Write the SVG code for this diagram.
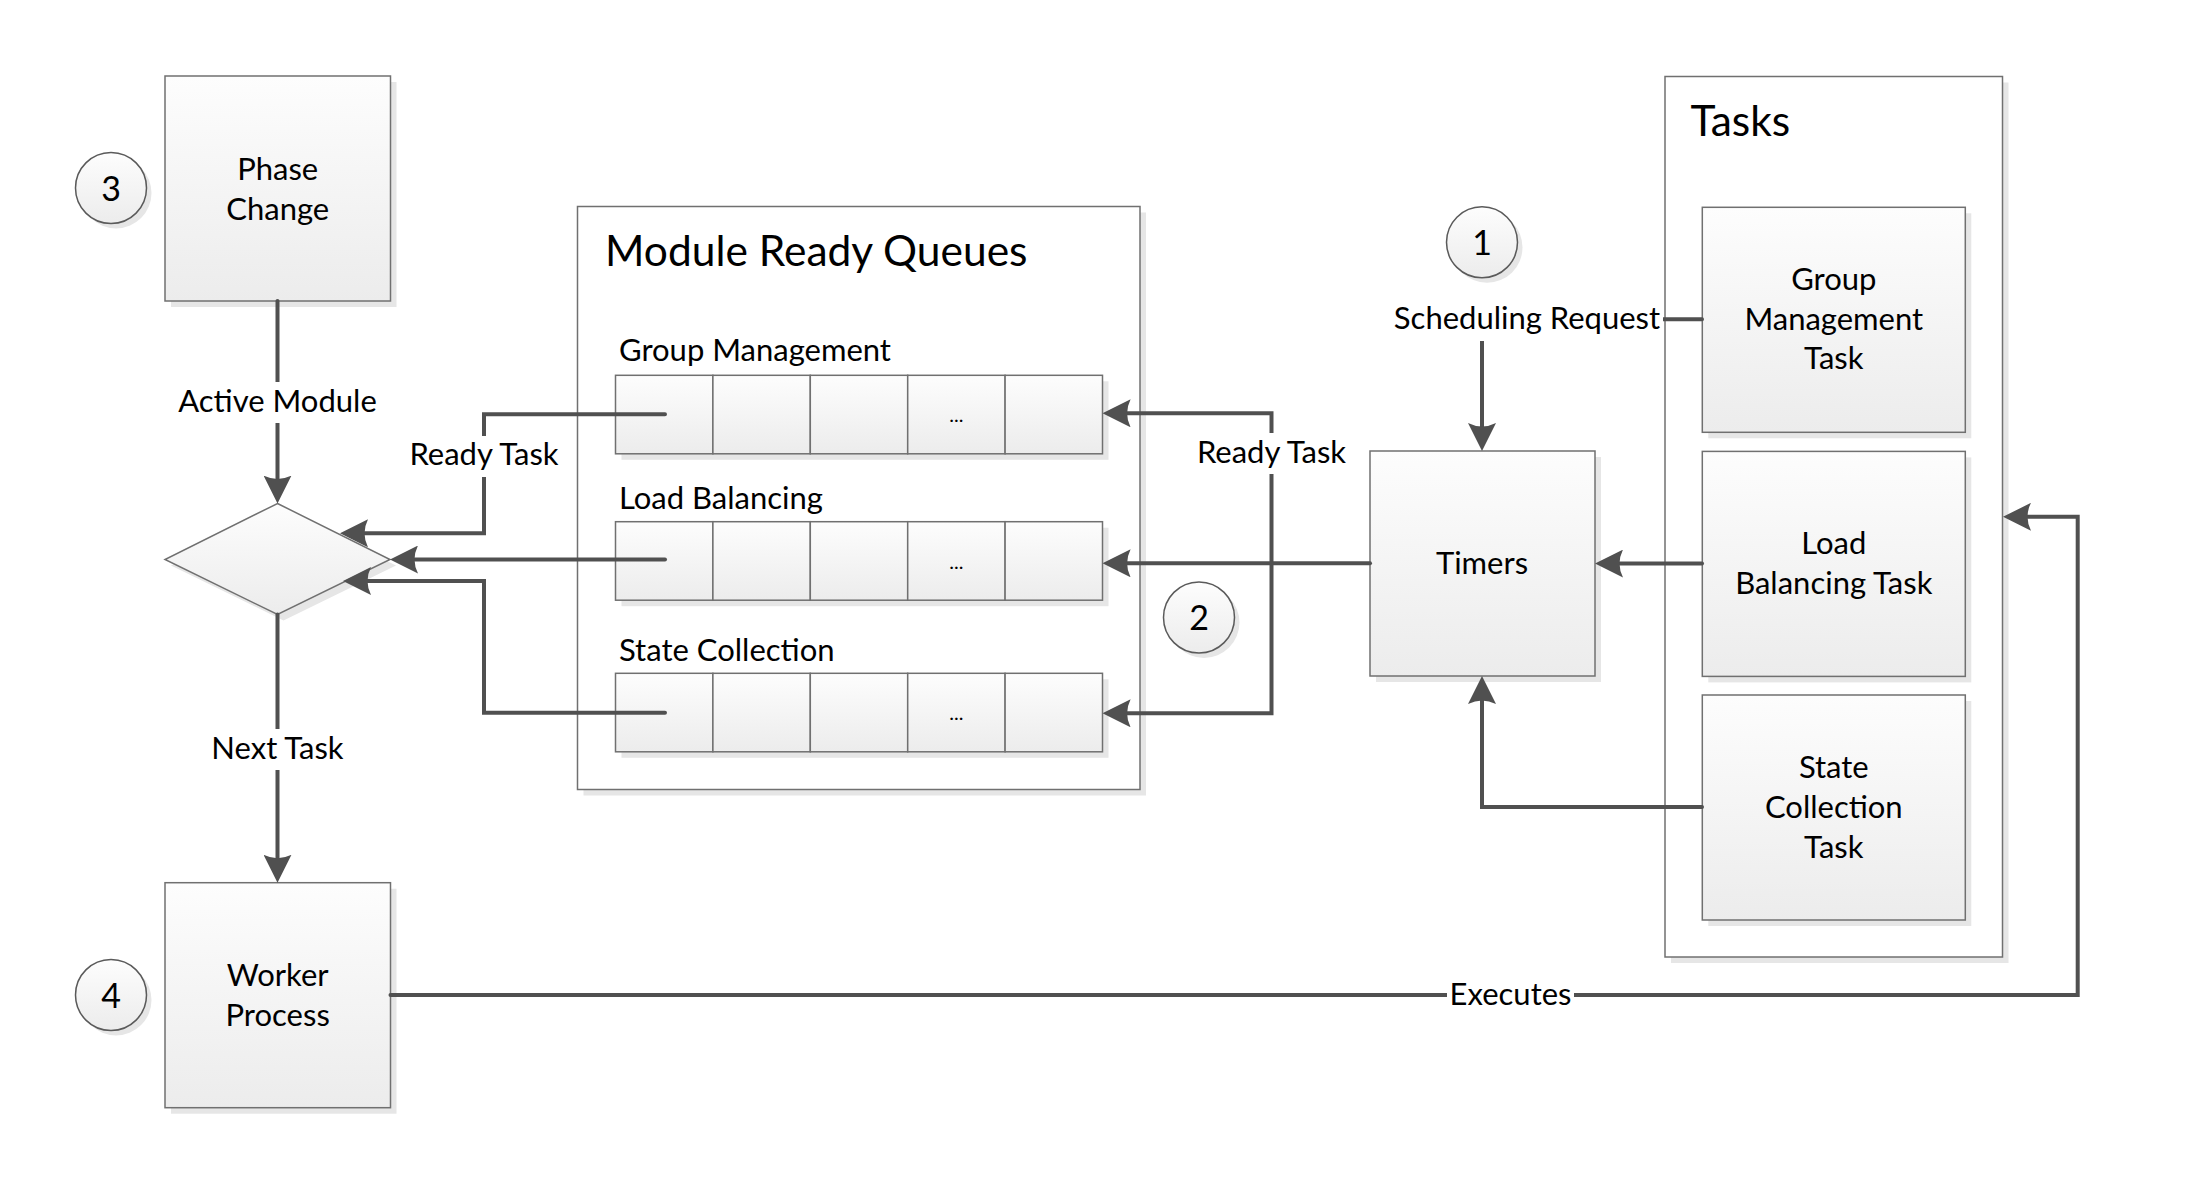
<svg xmlns="http://www.w3.org/2000/svg" width="2188" height="1194" viewBox="0 0 2188 1194">
  <defs>
    <linearGradient id="boxFill" x1="0" y1="0" x2="0" y2="1">
      <stop offset="0" stop-color="#fdfdfd"/>
      <stop offset="1" stop-color="#ececec"/>
    </linearGradient>
    <marker id="arrow" viewBox="0 0 28 28" markerWidth="28" markerHeight="28" markerUnits="userSpaceOnUse" refX="18" refY="14" orient="auto">
      <path d="M28,14 L0,0 Q7,14 0,28 Z" fill="#505050"/>
    </marker>
    <style>
      .shadow { fill: #e6e6e6; }
      .box { fill: url(#boxFill); stroke: #707070; stroke-width: 1.5; }
      .container { fill: #ffffff; stroke: #707070; stroke-width: 1.5; }
      .circle { fill: url(#boxFill); stroke: #5a5a5a; stroke-width: 1.5; }
      .txt { font-family: Lato, "Liberation Sans", sans-serif; font-size: 31px; fill: #000000; }
      .mid { text-anchor: middle; }
      .title { font-family: Lato, "Liberation Sans", sans-serif; font-size: 42.5px; fill: #000000; }
      .num { font-family: Lato, "Liberation Sans", sans-serif; font-size: 34px; fill: #000000; text-anchor: middle; }
      .dots { font-family: Lato, "Liberation Sans", sans-serif; font-size: 20px; fill: #000000; text-anchor: middle; }
      .conn { fill: none; stroke: #505050; stroke-width: 4; stroke-linejoin: miter; stroke-linecap: round; }
      .arr { marker-end: url(#arrow); }
      .lblbg { fill: #ffffff; }
    </style>
  </defs>

  <rect width="2188" height="1194" fill="#ffffff"/>

  <!-- Containers -->
  <g id="module-ready-queues">
    <rect class="shadow" x="583.5" y="212.5" width="562.5" height="583"/>
    <rect class="container" x="577.5" y="206.5" width="562.5" height="583"/>
    <text class="title" x="605" y="266">Module Ready Queues</text>
  </g>

  <g id="tasks">
    <rect class="shadow" x="1671" y="82.5" width="337.5" height="880.5"/>
    <rect class="container" x="1665" y="76.5" width="337.5" height="880.5"/>
    <text class="title" x="1690.5" y="136">Tasks</text>
  </g>

  <!-- Queues -->
  <g id="queue-group-management">
    <text class="txt" x="619" y="361">Group Management</text>
    <rect class="shadow" x="621.5" y="381.3" width="487" height="78.5"/>
    <rect class="box" x="615.5" y="375.3" width="97.4" height="78.5"/>
    <rect class="box" x="712.9" y="375.3" width="97.4" height="78.5"/>
    <rect class="box" x="810.3" y="375.3" width="97.4" height="78.5"/>
    <rect class="box" x="907.7" y="375.3" width="97.4" height="78.5"/>
    <rect class="box" x="1005.1" y="375.3" width="97.4" height="78.5"/>
    <text class="dots" x="956.4" y="422">...</text>
  </g>

  <g id="queue-load-balancing">
    <text class="txt" x="619" y="508.8">Load Balancing</text>
    <rect class="shadow" x="621.5" y="527.7" width="487" height="78.5"/>
    <rect class="box" x="615.5" y="521.7" width="97.4" height="78.5"/>
    <rect class="box" x="712.9" y="521.7" width="97.4" height="78.5"/>
    <rect class="box" x="810.3" y="521.7" width="97.4" height="78.5"/>
    <rect class="box" x="907.7" y="521.7" width="97.4" height="78.5"/>
    <rect class="box" x="1005.1" y="521.7" width="97.4" height="78.5"/>
    <text class="dots" x="956.4" y="569">...</text>
  </g>

  <g id="queue-state-collection">
    <text class="txt" x="619" y="660.5">State Collection</text>
    <rect class="shadow" x="621.5" y="679.3" width="487" height="78.5"/>
    <rect class="box" x="615.5" y="673.3" width="97.4" height="78.5"/>
    <rect class="box" x="712.9" y="673.3" width="97.4" height="78.5"/>
    <rect class="box" x="810.3" y="673.3" width="97.4" height="78.5"/>
    <rect class="box" x="907.7" y="673.3" width="97.4" height="78.5"/>
    <rect class="box" x="1005.1" y="673.3" width="97.4" height="78.5"/>
    <text class="dots" x="956.4" y="720">...</text>
  </g>

  <!-- Nodes -->
  <g id="phase-change">
    <rect class="shadow" x="171" y="82" width="225.5" height="225"/>
    <rect class="box" x="165" y="76" width="225.5" height="225"/>
    <text class="txt mid" x="277.7" y="179.8">Phase</text>
    <text class="txt mid" x="277.7" y="219.8">Change</text>
  </g>

  <g id="decision">
    <polygon class="shadow" points="283.5,509.5 396,565.5 283.5,620.5 171,565.5"/>
    <polygon class="box" points="277.5,503.5 390,559.5 277.5,614.5 165,559.5"/>
  </g>

  <g id="worker-process">
    <rect class="shadow" x="171" y="888.7" width="225.5" height="225"/>
    <rect class="box" x="165" y="882.7" width="225.5" height="225"/>
    <text class="txt mid" x="277.7" y="985.5">Worker</text>
    <text class="txt mid" x="277.7" y="1025.5">Process</text>
  </g>

  <g id="timers">
    <rect class="shadow" x="1376" y="457" width="225" height="225"/>
    <rect class="box" x="1370" y="451" width="225" height="225"/>
    <text class="txt mid" x="1482" y="573.8">Timers</text>
  </g>

  <g id="group-management-task">
    <rect class="shadow" x="1708.3" y="213.3" width="263" height="225"/>
    <rect class="box" x="1702.3" y="207.3" width="263" height="225"/>
    <text class="txt mid" x="1833.8" y="289.8">Group</text>
    <text class="txt mid" x="1833.8" y="329.5">Management</text>
    <text class="txt mid" x="1833.8" y="369">Task</text>
  </g>

  <g id="load-balancing-task">
    <rect class="shadow" x="1708.3" y="457.4" width="263" height="225"/>
    <rect class="box" x="1702.3" y="451.4" width="263" height="225"/>
    <text class="txt mid" x="1833.8" y="554">Load</text>
    <text class="txt mid" x="1833.8" y="594">Balancing Task</text>
  </g>

  <g id="state-collection-task">
    <rect class="shadow" x="1708.3" y="701" width="263" height="225"/>
    <rect class="box" x="1702.3" y="695" width="263" height="225"/>
    <text class="txt mid" x="1833.8" y="778">State</text>
    <text class="txt mid" x="1833.8" y="817.8">Collection</text>
    <text class="txt mid" x="1833.8" y="857.5">Task</text>
  </g>

  <!-- Step markers -->
  <g id="step-1">
    <circle class="shadow" cx="1487" cy="247.3" r="35.5"/>
    <circle class="circle" cx="1482" cy="242.3" r="35.5"/>
    <text class="num" x="1482" y="254.8">1</text>
  </g>
  <g id="step-2">
    <circle class="shadow" cx="1204" cy="622.5" r="35.5"/>
    <circle class="circle" cx="1199" cy="617.5" r="35.5"/>
    <text class="num" x="1199" y="630">2</text>
  </g>
  <g id="step-3">
    <circle class="shadow" cx="116" cy="193" r="35.5"/>
    <circle class="circle" cx="111" cy="188" r="35.5"/>
    <text class="num" x="111" y="200.5">3</text>
  </g>
  <g id="step-4">
    <circle class="shadow" cx="116" cy="1000" r="35.5"/>
    <circle class="circle" cx="111" cy="995" r="35.5"/>
    <text class="num" x="111" y="1007.5">4</text>
  </g>

  <!-- Connectors -->
  <g id="connectors">
    <!-- Phase Change -> decision -->
    <path class="conn arr" d="M277.5,301 V493.5"/>
    <!-- decision -> Worker Process -->
    <path class="conn arr" d="M277.5,614.5 V872.7"/>
    <!-- Queues -> decision -->
    <path class="conn arr" d="M665,414.3 H484 V533.3 H350"/>
    <path class="conn arr" d="M665,559.5 H400"/>
    <path class="conn arr" d="M665,712.7 H484 V581 H353"/>
    <!-- Timers -> queues -->
    <path class="conn arr" d="M1370,563.3 H1112.6"/>
    <path class="conn arr" d="M1271.5,563.3 V413.3 H1112.6"/>
    <path class="conn arr" d="M1271.5,563.3 V713.3 H1112.6"/>
    <!-- Tasks -> Timers -->
    <path class="conn arr" d="M1702,319.3 H1482 V441"/>
    <path class="conn arr" d="M1702,563.6 H1605"/>
    <path class="conn arr" d="M1702,807 H1482 V686"/>
    <!-- Worker Process -> Tasks -->
    <path class="conn arr" d="M390.5,995 H2077.7 V516.8 H2013"/>

    <!-- Labels -->
    <rect class="lblbg" x="172" y="382" width="211" height="41"/>
    <text class="txt mid" x="277.5" y="412">Active Module</text>

    <rect class="lblbg" x="206" y="729" width="143" height="41"/>
    <text class="txt mid" x="277.5" y="759.3">Next Task</text>

    <rect class="lblbg" x="404" y="436" width="160" height="41"/>
    <text class="txt mid" x="484" y="465.3">Ready Task</text>

    <rect class="lblbg" x="1191" y="433" width="161" height="41"/>
    <text class="txt mid" x="1271.5" y="463">Ready Task</text>

    <rect class="lblbg" x="1389" y="298" width="274" height="43"/>
    <text class="txt mid" x="1527" y="328.6">Scheduling Request</text>

    <rect class="lblbg" x="1447" y="975" width="127" height="40"/>
    <text class="txt mid" x="1510.5" y="1004.6">Executes</text>
  </g>
</svg>
